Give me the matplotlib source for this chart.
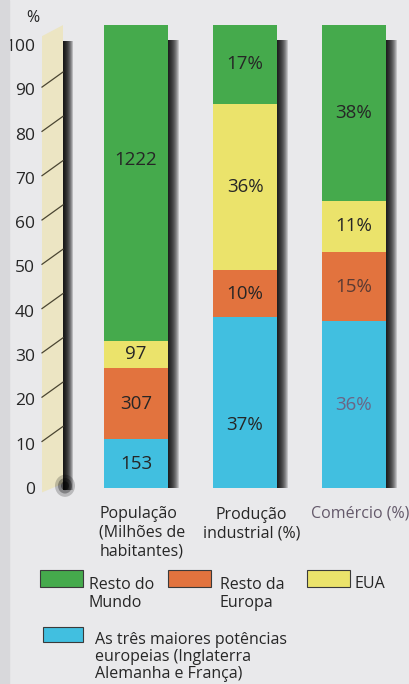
import numpy as np
import matplotlib
matplotlib.use("Agg")
import matplotlib.pyplot as plt
from matplotlib.patches import Polygon, Rectangle, Ellipse

plt.rcParams['font.family'] = ['Open Sans', 'DejaVu Sans']

# ---------------- data ----------------
categories = ["População\n(Milhões de\nhabitantes)", "Produção\nindustrial (%)", "Comércio (%)"]
series_names = ["As três maiores potências\neuropeias (Inglaterra\nAlemanha e França)",
                "Resto da\nEuropa", "EUA", "Resto do\nMundo"]
# bar segment heights (% of bar), bottom to top
tres_potencias = [10.5, 37, 36]
resto_europa = [15.5, 10, 15]
eua = [5.8, 36, 11]
resto_mundo = [68.2, 17, 38]
# printed values
tres_potencias_lbl = ["153", "37%", "36%"]
resto_europa_lbl = ["307", "10%", "15%"]
eua_lbl = ["97", "36%", "11%"]
resto_mundo_lbl = ["1222", "17%", "38%"]
y_ticks = [0, 10, 20, 30, 40, 50, 60, 70, 80, 90, 100]

# ---------------- style ----------------
colors = ['#41bfe0', '#e2733e', '#ebe36b', '#45aa4c']
bg = '#e9e9eb'
txt = '#262626'
W, H = 410, 684


def fx(px):
    return px / W


def fy(py):
    return 1 - py / H


fig = plt.figure(figsize=(W / 100, H / 100), dpi=100)
fig.patch.set_facecolor(bg)
fig.patches.append(Rectangle((0, 0), fx(9), 1, transform=fig.transFigure,
                             color='#d8d8db', zorder=0))

# ---------------- main bars ----------------
ax = fig.add_axes([fx(80), fy(488), fx(330), (488 - 25) / H])
ax.set_xlim(-0.514, 2.514)
ax.set_ylim(0, 100)
ax.axis('off')

xpos = np.arange(len(categories))
bar_w = 64 / 109
stack = [tres_potencias, resto_europa, eua, resto_mundo]
stack_lbl = [tres_potencias_lbl, resto_europa_lbl, eua_lbl, resto_mundo_lbl]
stack = np.array(stack, dtype=float)
totals = stack.sum(axis=0)

# soft drop shadow to the right of each bar
for off in range(1, 12):
    ax.bar(xpos + off / 109, totals - 2.5, bottom=-0.8, width=bar_w,
           color='black', alpha=0.16, linewidth=0, zorder=1)

bottoms = np.zeros(len(categories))
label_colors = {(0, 2): '#6b6585', (1, 2): '#5b3b33'}
label_nudge = {(3, 0): 5, (0, 1): -5}
for s, (vals, lbls) in enumerate(zip(stack, stack_lbl)):
    ax.bar(xpos, vals, bottom=bottoms, width=bar_w, color=colors[s],
           linewidth=0, zorder=2)
    for i in range(len(categories)):
        yc = bottoms[i] + vals[i] / 2 + label_nudge.get((s, i), 0)
        ax.text(xpos[i], yc, lbls[i], ha='center', va='center', fontsize=13.5,
                color=label_colors.get((s, i), txt), zorder=3)
    bottoms += vals

cat_align = ['left', 'center', 'center']
cat_colors = [txt, txt, '#64596a']
cat_last_baseline = [555, 537, 517]  # pixel row of the last text line
for i, c in enumerate(categories):
    ax.text(xpos[i] + 0.06, (488 - cat_last_baseline[i]) / 4.63, c, ha='center',
            va='baseline', multialignment=cat_align[i], fontsize=11.5,
            color=cat_colors[i], linespacing=1.2, clip_on=False)

# ---------------- decorative value axis ----------------
axL = fig.add_axes([fx(42), fy(488), fx(30), (488 - 45) / H])
axL.set_xlim(0, 30)
axL.set_ylim(0, 100)
axL.patch.set_visible(False)
for sp in axL.spines.values():
    sp.set_visible(False)
axL.set_xticks([])
axL.set_yticks(y_ticks)
axL.set_yticklabels([str(t) for t in y_ticks], fontsize=12.5, color=txt)
axL.tick_params(axis='y', length=0, pad=5)

axL.add_patch(Polygon([(0, -1), (0, 102), (21, 104.5), (21, 1)], closed=True,
                      facecolor='#ece5c3', edgecolor='none', clip_on=False, zorder=1))
for k in range(1, 11):
    axL.add_patch(Rectangle((21, -0.5), k, 101.5, facecolor='black', alpha=0.2,
                            edgecolor='none', clip_on=False, zorder=2))
for wdt, a in [(20, 0.2), (14, 0.3), (8, 0.4)]:
    axL.add_patch(Ellipse((23, 0.5), wdt, wdt / 4, facecolor='black', alpha=a,
                          edgecolor='none', clip_on=False, zorder=2))
for t in y_ticks[1:-1]:
    axL.plot([0, 21], [t + 0.5, t + 3.9], color='#4a4532', lw=0.9,
             clip_on=False, zorder=3)
fig.text(fx(33), fy(18), '%', ha='center', va='center', fontsize=11.5, color=txt)

# ---------------- legend ----------------
leg_order = [3, 1, 2, 0]
leg_swatch = [(40, 570, 43, 17), (168, 570, 43, 17), (307, 570, 43, 17), (43, 627, 40, 15)]
leg_text = [(89, 607), (220, 607), (355, 588), (95, 678)]  # last-line baselines
for s, (sx, sy, sw, sh), (tx, ty) in zip(leg_order, leg_swatch, leg_text):
    fig.patches.append(Rectangle((fx(sx), fy(sy + sh)), sw / W, sh / H,
                                 transform=fig.transFigure, facecolor=colors[s],
                                 edgecolor='#3a3a3a', linewidth=0.8))
    fig.text(fx(tx), fy(ty), series_names[s], ha='left', va='baseline',
             fontsize=11.5, color=txt, linespacing=1.1 if s == 0 else 1.2)

fig.savefig('out.png', dpi=100, facecolor=fig.get_facecolor())
